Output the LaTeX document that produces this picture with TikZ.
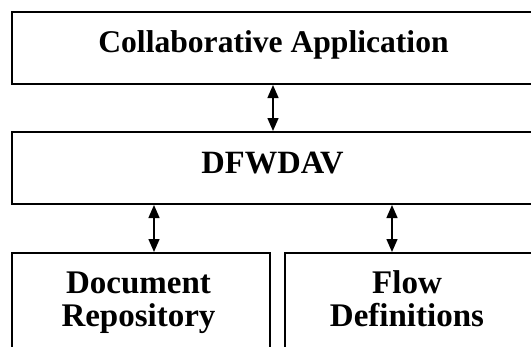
\documentclass[tikz,border=0pt]{standalone}
\usepackage{fontspec}
\setmainfont{Liberation Serif}
\usetikzlibrary{arrows.meta,calc}
\tikzset{
  box/.style={draw=black, line width=2pt, inner sep=0pt, fill=white},
  lbl/.style={font=\bfseries\fontsize{#1}{36}\selectfont, inner sep=0pt, anchor=base},
  lbl/.default=32,
  biarrow/.style={line width=1.4pt, {Triangle[length=13pt,width=11pt]}-{Triangle[length=13pt,width=11pt]}}
}
\begin{document}
\begin{tikzpicture}[x=1pt,y=-1pt]
  \useasboundingbox (0,0) rectangle (531,346);
  \clip (0,0) rectangle (531,346);
  % layers
  \node[box, minimum width=522pt, minimum height=72pt] (app) at (273,48) {};
  \node[box, minimum width=522pt, minimum height=72pt] (dav) at (273,168) {};
  \node[box, minimum width=258pt, minimum height=99pt] (doc) at (141,302.5) {};
  \node[box, minimum width=249pt, minimum height=99pt] (flow) at (409.5,302.5) {};
  % labels
  \node[lbl=31.6] (appt) at (273.5,52) {Collaborative Application};
  \node[lbl=32.5] (davt) at (272.5,173) {DFWDAV};
  \node[lbl=33] (doct1) at (138.5,293) {Document};
  \node[lbl=33] (doct2) at (138.5,326) {Repository};
  \node[lbl=33] (flowt1) at (407,293) {Flow};
  \node[lbl=33] (flowt2) at (407,326) {Definitions};
  % connectors
  \draw[biarrow] (app.south) -- (dav.north);
  \path (doc.north) ++(13,0) coordinate (docin);
  \path (flow.north) ++(-17.5,0) coordinate (flowin);
  \draw[biarrow] (docin |- dav.south) -- (docin);
  \draw[biarrow] (flowin |- dav.south) -- (flowin);
\end{tikzpicture}
\end{document}
